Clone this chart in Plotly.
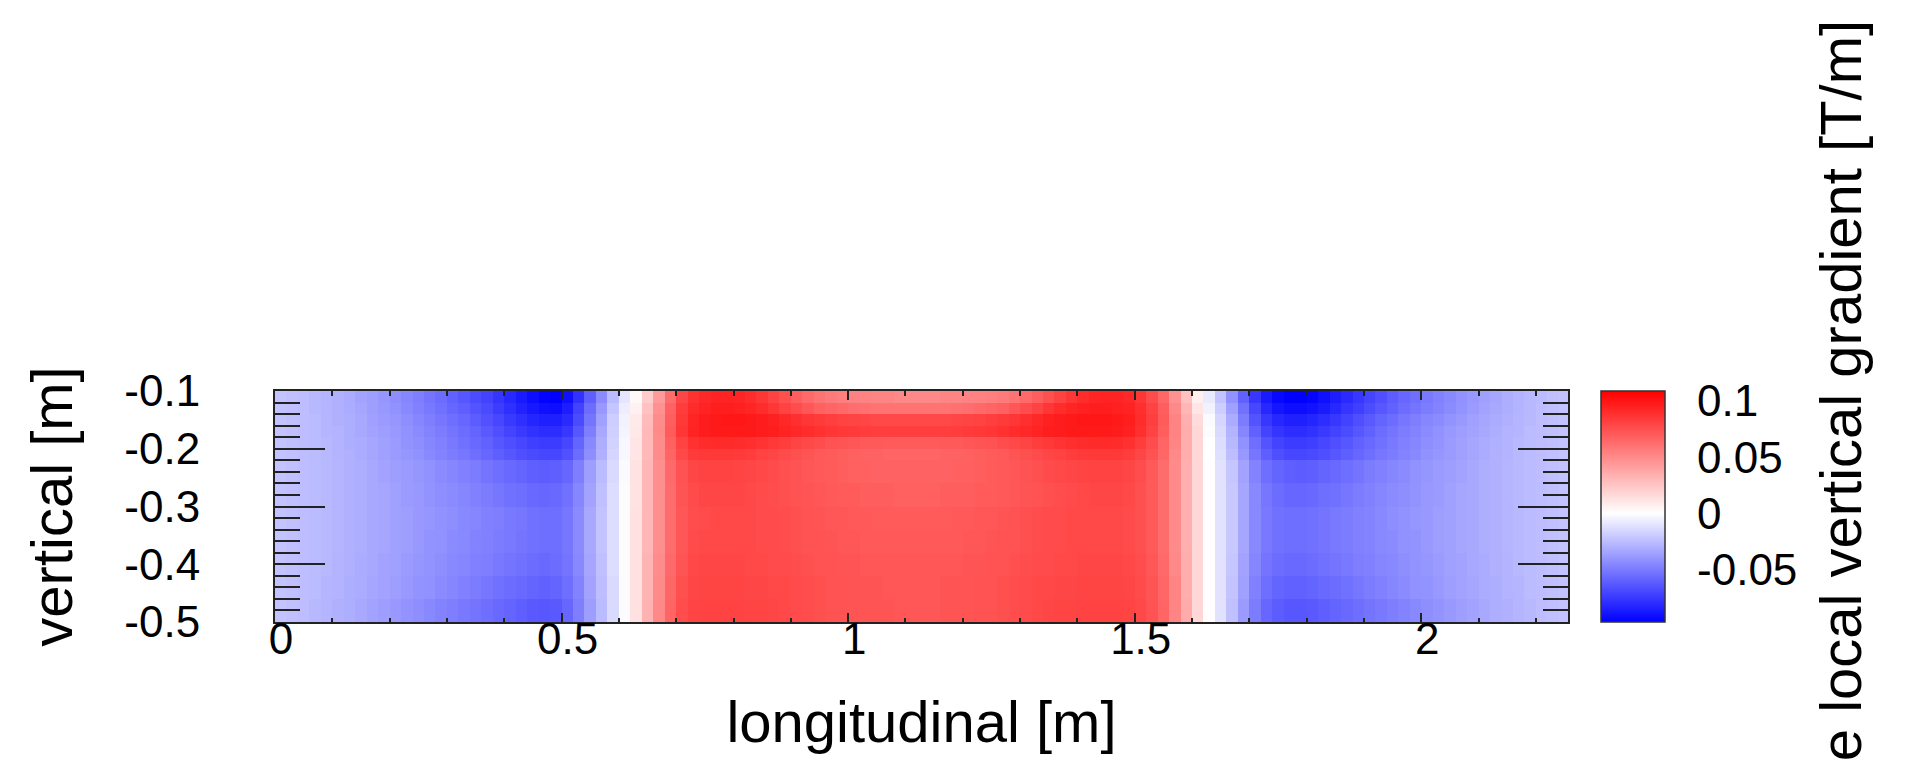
import plotly.graph_objects as go

# Local vertical gradient map, in mT/m.
# Columns: 0.02 m bins along the longitudinal axis starting at 0 m (113 bins).
# Rows: vertical bins named by their centre (0.04 m wide below -0.22 m, 0.02 m above).
grad_y048 = [-23, -24, -25, -27, -28, -30, -31, -33, -35, -37, -39, -41, -43, -45, -47, -49, -51, -53, -55, -57,
             -59, -61, -63, -64, -63, -58, -49, -37, -26, -14, -1, 13, 33, 51, 66, 76, 80, 81, 81, 81,
             81, 80, 80, 79, 78, 77, 76, 75, 74, 74, 73, 73, 73, 73, 72, 72,
             72, 72, 73, 73, 73, 74, 74, 75, 76, 77, 78, 79, 80, 80, 81, 81, 81, 81, 80, 78,
             74, 66, 52, 36, 17, 1, -11, -24, -38, -50, -58, -62, -64, -64, -63, -61, -59, -57, -55, -53,
             -51, -49, -47, -45, -43, -41, -39, -37, -35, -33, -31, -30, -28, -27, -25, -24, -23]
grad_y044 = [-23, -24, -25, -26, -28, -29, -31, -32, -34, -35, -37, -39, -41, -42, -44, -46, -48, -50, -52, -54,
             -56, -57, -59, -60, -59, -55, -47, -35, -25, -14, -1, 13, 32, 50, 65, 75, 79, 80, 80, 80,
             80, 79, 79, 78, 78, 77, 76, 75, 74, 74, 73, 73, 73, 72, 72, 72,
             72, 72, 73, 73, 73, 74, 74, 75, 76, 77, 78, 78, 79, 79, 80, 80, 80, 80, 79, 77,
             73, 65, 52, 35, 17, 1, -11, -23, -36, -48, -55, -59, -60, -60, -59, -57, -56, -54, -52, -50,
             -48, -46, -44, -42, -41, -39, -37, -35, -34, -32, -31, -29, -28, -26, -25, -24, -23]
grad_y040 = [-23, -24, -25, -26, -27, -29, -30, -32, -33, -35, -36, -38, -40, -41, -43, -45, -46, -48, -49, -51,
             -53, -54, -56, -57, -56, -53, -45, -34, -24, -13, -1, 13, 32, 49, 64, 73, 78, 79, 79, 79,
             79, 78, 78, 77, 77, 76, 75, 74, 74, 73, 73, 72, 72, 72, 72, 72,
             72, 72, 72, 72, 73, 73, 74, 74, 75, 76, 77, 77, 78, 78, 79, 79, 79, 79, 78, 76,
             72, 64, 51, 35, 17, 1, -11, -22, -35, -46, -53, -56, -57, -57, -56, -54, -53, -51, -49, -48,
             -46, -45, -43, -41, -40, -38, -36, -35, -33, -32, -30, -29, -27, -26, -25, -24, -23]
grad_y036 = [-23, -24, -25, -26, -27, -28, -30, -31, -33, -34, -36, -37, -39, -41, -42, -44, -45, -47, -48, -50,
             -51, -53, -54, -55, -55, -52, -44, -33, -23, -13, -1, 13, 31, 48, 63, 72, 77, 78, 78, 78,
             78, 78, 77, 77, 76, 75, 74, 74, 73, 72, 72, 71, 71, 71, 71, 71,
             71, 71, 71, 71, 72, 72, 73, 74, 74, 75, 76, 77, 77, 78, 78, 78, 78, 78, 77, 75,
             71, 63, 50, 34, 17, 1, -11, -21, -34, -45, -51, -54, -55, -55, -54, -53, -51, -50, -48, -47,
             -45, -44, -42, -41, -39, -37, -36, -34, -33, -31, -30, -28, -27, -26, -25, -24, -23]
grad_y032 = [-23, -24, -25, -26, -27, -28, -30, -31, -33, -34, -36, -37, -39, -40, -42, -43, -45, -46, -48, -49,
             -51, -52, -54, -55, -55, -52, -44, -33, -23, -13, -1, 13, 31, 48, 63, 72, 76, 77, 78, 78,
             78, 78, 77, 77, 76, 75, 74, 73, 72, 72, 71, 71, 70, 70, 70, 70,
             70, 70, 70, 71, 71, 72, 72, 73, 74, 75, 76, 77, 77, 78, 78, 78, 78, 78, 77, 75,
             71, 63, 50, 34, 17, 1, -11, -21, -34, -45, -51, -54, -55, -55, -54, -53, -51, -50, -48, -47,
             -45, -43, -42, -40, -39, -37, -36, -34, -33, -31, -30, -28, -27, -26, -25, -24, -23]
grad_y028 = [-23, -24, -25, -26, -27, -28, -30, -31, -33, -34, -36, -38, -39, -41, -43, -44, -46, -48, -50, -52,
             -54, -55, -57, -58, -57, -54, -46, -35, -24, -13, -1, 12, 31, 48, 63, 73, 77, 79, 79, 79,
             79, 78, 77, 76, 75, 74, 73, 72, 71, 70, 70, 69, 69, 69, 68, 68,
             68, 68, 69, 69, 69, 70, 70, 71, 72, 73, 74, 75, 76, 77, 78, 79, 79, 79, 78, 75,
             71, 63, 50, 34, 17, 1, -11, -21, -34, -45, -52, -56, -58, -58, -57, -55, -54, -52, -50, -48,
             -46, -44, -43, -41, -39, -38, -36, -34, -33, -31, -30, -28, -27, -26, -25, -24, -23]
grad_y024 = [-23, -24, -25, -26, -27, -28, -30, -31, -33, -35, -37, -38, -40, -42, -44, -46, -48, -50, -53, -55,
             -57, -59, -61, -62, -61, -58, -49, -37, -26, -14, -2, 12, 31, 48, 64, 74, 79, 81, 81, 81,
             80, 79, 78, 77, 75, 74, 72, 71, 70, 69, 68, 68, 67, 67, 67, 67,
             67, 67, 67, 68, 68, 69, 70, 71, 72, 74, 75, 77, 78, 79, 80, 81, 81, 81, 79, 76,
             71, 63, 50, 34, 17, 1, -11, -22, -35, -47, -55, -59, -61, -62, -61, -59, -57, -55, -53, -50,
             -48, -46, -44, -42, -40, -38, -37, -35, -33, -31, -30, -28, -27, -26, -25, -24, -23]
grad_y021 = [-23, -24, -25, -26, -27, -29, -30, -32, -34, -36, -38, -40, -42, -45, -47, -50, -52, -55, -58, -61,
             -64, -67, -69, -70, -70, -66, -56, -43, -30, -16, -3, 11, 30, 49, 66, 78, 84, 85, 85, 85,
             84, 83, 81, 79, 77, 75, 73, 71, 70, 69, 68, 67, 67, 66, 66, 66,
             66, 66, 67, 67, 68, 69, 70, 71, 73, 75, 77, 79, 81, 83, 84, 85, 85, 85, 83, 79,
             74, 65, 51, 35, 17, 0, -12, -25, -39, -52, -61, -67, -70, -70, -69, -67, -64, -61, -58, -55,
             -52, -50, -47, -45, -42, -40, -38, -36, -34, -32, -30, -29, -27, -26, -25, -24, -23]
grad_y019 = [-23, -24, -25, -26, -27, -29, -31, -32, -34, -36, -38, -41, -43, -46, -48, -51, -54, -57, -60, -64,
             -67, -70, -73, -74, -74, -70, -59, -45, -31, -17, -3, 11, 30, 49, 68, 81, 88, 90, 91, 91,
             90, 89, 87, 85, 83, 80, 78, 76, 74, 73, 72, 71, 71, 70, 70, 70,
             70, 70, 71, 71, 72, 73, 74, 76, 78, 80, 83, 85, 87, 89, 90, 91, 91, 90, 88, 83,
             76, 66, 52, 35, 17, 0, -13, -27, -42, -55, -65, -71, -74, -74, -73, -70, -67, -64, -60, -57,
             -54, -51, -48, -46, -43, -41, -38, -36, -34, -32, -30, -29, -27, -26, -25, -24, -23]
grad_y017 = [-23, -24, -25, -26, -28, -29, -31, -33, -35, -37, -39, -42, -44, -47, -50, -53, -56, -59, -63, -67,
             -71, -75, -78, -80, -80, -76, -64, -49, -33, -18, -4, 10, 30, 50, 70, 86, 94, 97, 98, 98,
             98, 98, 97, 96, 94, 92, 90, 88, 86, 85, 84, 83, 82, 82, 82, 82,
             82, 82, 82, 83, 84, 85, 86, 88, 90, 92, 94, 96, 97, 98, 98, 98, 98, 97, 95, 89,
             81, 69, 53, 35, 17, -1, -14, -29, -46, -60, -71, -77, -80, -80, -78, -75, -72, -68, -64, -60,
             -56, -53, -50, -47, -44, -42, -39, -37, -35, -33, -31, -29, -28, -26, -25, -24, -23]
grad_y015 = [-23, -24, -25, -26, -28, -30, -31, -33, -36, -38, -40, -43, -46, -49, -52, -55, -58, -62, -66, -70,
             -75, -79, -83, -85, -85, -81, -69, -53, -36, -19, -5, 9, 29, 49, 69, 85, 93, 97, 98, 99,
             99, 98, 97, 95, 92, 89, 86, 84, 82, 81, 80, 79, 78, 78, 78, 78,
             78, 78, 78, 79, 80, 81, 82, 84, 86, 89, 92, 95, 97, 98, 99, 99, 99, 98, 96, 90,
             82, 70, 53, 34, 15, -2, -16, -32, -50, -65, -76, -82, -85, -85, -83, -80, -76, -72, -67, -63,
             -59, -56, -52, -49, -46, -44, -41, -39, -36, -34, -32, -30, -28, -27, -25, -24, -23]
grad_y013 = [-23, -24, -25, -27, -28, -30, -32, -34, -37, -39, -42, -45, -48, -51, -54, -58, -61, -65, -69, -74,
             -79, -84, -88, -91, -92, -86, -72, -56, -39, -22, -7, 6, 26, 47, 67, 83, 91, 94, 96, 96,
             95, 93, 90, 86, 81, 76, 72, 68, 66, 64, 62, 61, 60, 60, 60, 60,
             60, 60, 60, 61, 62, 64, 66, 68, 72, 76, 81, 86, 90, 93, 95, 96, 96, 95, 94, 89,
             81, 69, 51, 31, 11, -5, -19, -36, -54, -70, -82, -89, -92, -92, -90, -87, -82, -77, -73, -68,
             -64, -60, -56, -53, -50, -47, -44, -41, -38, -35, -33, -31, -29, -27, -25, -24, -23]
grad_y011 = [-23, -24, -25, -27, -28, -30, -32, -35, -37, -40, -43, -46, -49, -53, -56, -60, -64, -68, -72, -77,
             -82, -87, -92, -96, -97, -91, -78, -61, -44, -26, -10, 3, 22, 43, 63, 79, 88, 92, 94, 94,
             93, 90, 86, 81, 75, 69, 64, 60, 57, 55, 54, 53, 52, 52, 51, 51,
             51, 51, 52, 52, 53, 54, 55, 57, 60, 64, 69, 75, 81, 86, 90, 93, 94, 94, 92, 86,
             77, 65, 47, 27, 7, -8, -23, -42, -60, -76, -87, -94, -97, -97, -95, -91, -86, -81, -76, -71,
             -67, -62, -58, -55, -51, -48, -45, -42, -39, -36, -34, -31, -29, -27, -26, -24, -23]

# rows ordered bottom to top, with the vertical bin edges they fill
grad_rows = [grad_y048, grad_y044, grad_y040, grad_y036, grad_y032, grad_y028, grad_y024,
             grad_y021, grad_y019, grad_y017, grad_y015, grad_y013, grad_y011]
y_edges = [-0.50, -0.46, -0.42, -0.38, -0.34, -0.30, -0.26, -0.22,
           -0.20, -0.18, -0.16, -0.14, -0.12, -0.10]
for row in grad_rows:
    assert len(row) == 113, len(row)
assert len(y_edges) == len(grad_rows) + 1

x_ticks = [0, 0.5, 1, 1.5, 2]
x_tick_text = ["0", "0.5", "1", "1.5", "2"]
y_ticks = [-0.5, -0.4, -0.3, -0.2, -0.1]
y_tick_text = ["-0.5", "-0.4", "-0.3", "-0.2", "-0.1"]
cb_ticks = [-0.05, 0, 0.05, 0.1]
cb_tick_text = ["-0.05", "0", "0.05", "0.1"]

Z_MIN, Z_MAX = -0.097, 0.109

# gradient in T/m
z = [[v / 1000.0 for v in row] for row in grad_rows]

FONT = "Liberation Sans, Arial, Helvetica, sans-serif"
W, H = 1916, 763
ML, MR, MT, MB = 275, 348, 391, 141
PW = W - ML - MR
PH = H - MT - MB

zero_pos = (0 - Z_MIN) / (Z_MAX - Z_MIN)
colorscale = [[0.0, "rgb(0,0,255)"], [zero_pos, "rgb(255,255,255)"], [1.0, "rgb(255,0,0)"]]

CB_THICK = 64
cb_left = (1601 - ML) / PW
cb_right = cb_left + CB_THICK / PW

fig = go.Figure(
    go.Heatmap(
        z=z,
        x0=0.01, dx=0.02,
        y=y_edges,
        zmin=Z_MIN, zmax=Z_MAX,
        colorscale=colorscale,
        zsmooth=False,
        colorbar=dict(
            x=cb_left, xanchor="left", xpad=0,
            y=0.5, yanchor="middle", ypad=0,
            len=1, lenmode="fraction",
            thickness=CB_THICK, thicknessmode="pixels",
            outlinewidth=1.5, outlinecolor="#333333",
            tickmode="array", tickvals=cb_ticks, ticktext=cb_tick_text,
            # invisible outside ticks only set the label distance; visible ticks are drawn below
            ticks="outside", ticklen=23, tickcolor="rgba(0,0,0,0)",
            tickfont=dict(family=FONT, size=44, color="black"),
        ),
        hoverinfo="skip",
    )
)

axis_common = dict(
    showgrid=False, zeroline=False,
    showline=True, linecolor="#222222", linewidth=2,
    mirror="ticks", ticks="inside", tickcolor="#222222", tickwidth=1.5,
    tickfont=dict(family=FONT, size=44, color="black"),
    automargin=False,
)

fig.update_layout(
    width=W, height=H, autosize=False,
    margin=dict(l=ML, r=MR, t=MT, b=MB, pad=0),
    paper_bgcolor="white", plot_bgcolor="white",
    font=dict(family=FONT, color="black"),
    xaxis=dict(
        range=[0, 2.256], tickmode="array", tickvals=x_ticks, ticktext=x_tick_text,
        ticklen=9, ticklabelshift=6, ticklabelstandoff=-23,
        minor=dict(ticks="inside", ticklen=4.5, dtick=0.1, tick0=0, tickcolor="#222222", tickwidth=1.5),
        title=dict(text="longitudinal [m]", font=dict(family=FONT, size=58, color="black"), standoff=40),
        **axis_common,
    ),
    yaxis=dict(
        range=[-0.5, -0.1], tickmode="array", tickvals=y_ticks, ticktext=y_tick_text,
        ticklen=50, ticklabelstandoff=64,
        minor=dict(ticks="inside", ticklen=25, dtick=0.02, tick0=-0.5, tickcolor="#222222", tickwidth=1.5),
        title=dict(text="vertical [m]", font=dict(family=FONT, size=58, color="black"), standoff=33),
        **axis_common,
    ),
)

# tick marks on both edges of the colour bar
cb_tick_w = 15 / PW
for v in cb_ticks:
    yp = (v - Z_MIN) / (Z_MAX - Z_MIN)
    for xa, xb in ((cb_left, cb_left + cb_tick_w), (cb_right - cb_tick_w, cb_right)):
        fig.add_shape(type="line", xref="paper", yref="paper",
                      x0=xa, x1=xb, y0=yp, y1=yp,
                      line=dict(color="#222222", width=1.5))

# colour-bar title, running up the right-hand edge
fig.add_annotation(
    text="Deviation of the local vertical gradient [T/m]",
    xref="paper", yref="paper",
    x=(1840 - ML) / PW, y=(H - MB - 18) / PH,
    xanchor="center", yanchor="top",
    textangle=-90, showarrow=False,
    font=dict(family=FONT, size=58, color="black"),
)

fig.write_html("out.html")
